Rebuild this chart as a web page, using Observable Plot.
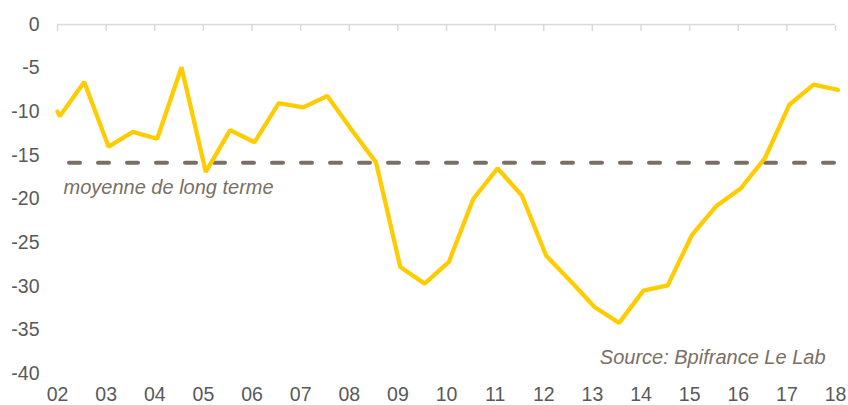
<!DOCTYPE html>
<html>
<head>
<meta charset="utf-8">
<script src="https://cdn.jsdelivr.net/npm/d3@7"></script>
<script src="https://cdn.jsdelivr.net/npm/@observablehq/plot@0.6"></script>
<style>
  html, body { margin: 0; padding: 0; background: #ffffff; }
  #chart { width: 848px; height: 405px; }
</style>
</head>
<body>
<div id="chart"></div>
<script>
// Half-yearly observations (decimal years)
const periods = [
  2002.0, 2002.05, 2002.55, 2003.05, 2003.55, 2004.05, 2004.55, 2005.05, 2005.55,
  2006.05, 2006.55, 2007.05, 2007.55, 2008.05, 2008.55, 2009.05, 2009.55,
  2010.05, 2010.55, 2011.05, 2011.55, 2012.05, 2012.55, 2013.05, 2013.55,
  2014.05, 2014.55, 2015.05, 2015.55, 2016.05, 2016.55, 2017.05, 2017.55, 2018.05
];
const values = [
  -10.0, -10.5, -6.6, -14.0, -12.3, -13.1, -4.9, -16.9, -12.1,
  -13.5, -9.0, -9.5, -8.2, -12.1, -15.8, -27.8, -29.7,
  -27.2, -20.0, -16.5, -19.6, -26.5, -29.4, -32.4, -34.2,
  -30.5, -29.9, -24.1, -20.8, -18.8, -15.3, -9.2, -6.9, -7.5
];
const longTermAverage = -15.85;
const yearTicks = [2002, 2003, 2004, 2005, 2006, 2007, 2008, 2009, 2010, 2011, 2012, 2013, 2014, 2015, 2016, 2017, 2018];
const yTicks = [0, -5, -10, -15, -20, -25, -30, -35, -40];
const averageLabel = "moyenne de long terme";
const sourceLabel = "Source: Bpifrance Le Lab";

const data = periods.map((p, i) => ({period: p, value: values[i]}));

const chart = Plot.plot({
  width: 848,
  height: 405,
  marginLeft: 57,
  marginRight: 13,
  marginTop: 24,
  marginBottom: 32,
  x: {domain: [2002, 2018]},
  y: {domain: [-40, 0]},
  style: {
    fontFamily: "'Liberation Sans', Arial, sans-serif",
    fontSize: "19.5px",
    color: "#595959",
    background: "#ffffff",
    overflow: "visible"
  },
  marks: [
    Plot.ruleY([0], {stroke: "#d9d9d9", strokeWidth: 1.5}),
    Plot.axisX({anchor: "top", ticks: yearTicks, tickSize: 6, dy: 6, stroke: "#d9d9d9", strokeWidth: 1.5, tickFormat: () => "", label: null}),
    Plot.axisX({anchor: "bottom", ticks: yearTicks, tickSize: 0, tickPadding: 14, fill: "#595959",
      tickFormat: d => String(d % 100).padStart(2, "0"), label: null}),
    Plot.axisY({ticks: yTicks, tickSize: 0, tickPadding: 18, fill: "#595959", tickFormat: d => String(d), label: null}),
    Plot.ruleY([longTermAverage], {stroke: "#7a6f65", strokeWidth: 4, strokeDasharray: "11,18", strokeDashoffset: 17, strokeLinecap: "round"}),
    Plot.line(data, {x: "period", y: "value", stroke: "#FFCC00", strokeWidth: 4.3, strokeLinejoin: "miter"}),
    Plot.text([averageLabel], {x: () => 2002, y: () => longTermAverage, text: d => d, textAnchor: "start", dx: 6, dy: 25,
      fill: "#7a6f65", fontStyle: "italic", fontSize: 20}),
    Plot.text([sourceLabel], {frameAnchor: "bottom-right", text: d => d, textAnchor: "end", dx: -10, dy: -10,
      fill: "#7a6f65", fontStyle: "italic", fontSize: 20})
  ]
});
document.getElementById("chart").appendChild(chart);
</script>
</body>
</html>
